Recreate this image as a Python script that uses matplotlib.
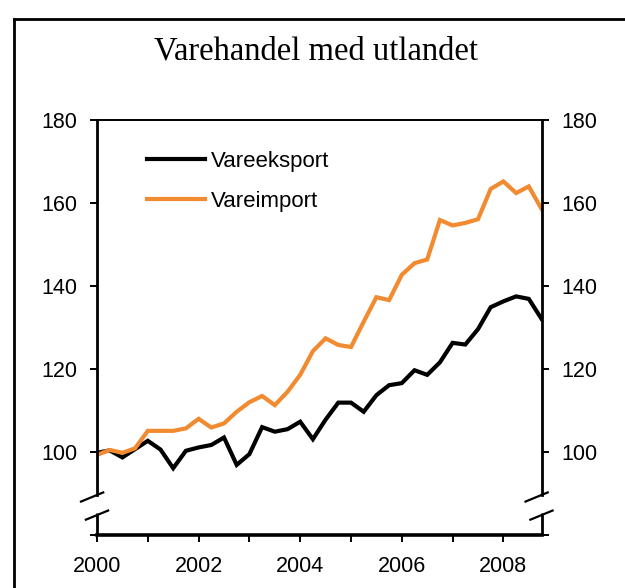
from __future__ import annotations

import matplotlib

matplotlib.use("Agg")
import matplotlib.pyplot as plt
from matplotlib.lines import Line2D

TITLE = "Varehandel med utlandet"
SERIES_NAMES = ["Vareeksport", "Vareimport"]
SERIES_COLORS = ["#000000", "#f28a30"]

# kvartalstall, 2000K1 - 2008K4
START_YEAR = 2000
QUARTERS = 36
EXPORT = [
    99.8, 100.4, 98.7, 100.7, 102.7, 100.6, 96.1, 100.3, 101.1, 101.7, 103.5, 96.9,
    99.5, 106.0, 104.9, 105.5, 107.3, 103.1, 107.8, 111.9, 111.9, 109.7, 113.7, 116.1,
    116.6, 119.7, 118.6, 121.6, 126.3, 125.9, 129.6, 134.9, 136.3, 137.5, 136.9, 132.1,
]
IMPORT = [
    99.3, 100.5, 99.8, 100.9, 105.1, 105.1, 105.1, 105.7, 108.0, 105.9, 106.9, 109.7,
    112.0, 113.5, 111.3, 114.5, 118.6, 124.3, 127.4, 125.8, 125.3, 131.4, 137.3, 136.6,
    142.7, 145.5, 146.4, 155.9, 154.6, 155.2, 156.1, 163.4, 165.2, 162.4, 164.0, 158.6,
]
X_TICKS = list(range(2000, 2009))
X_LABELS = [str(y) if y % 2 == 0 else "" for y in X_TICKS]
Y_TICKS = [80, 100, 120, 140, 160, 180]
Y_LABELS = ["", "100", "120", "140", "160", "180"]
Y_RANGE = (80, 180)
BREAK_RANGE = (85.3, 89.6)


def draw_break(ax, side: float) -> None:
    trans = ax.get_yaxis_transform()
    ax.add_line(Line2D([side, side], [Y_RANGE[0], BREAK_RANGE[0]], transform=trans,
                       color="black", lw=2, clip_on=False, solid_capstyle="butt"))
    for yc, shift in [(0.0916, -0.011), (0.048, 0.0)]:
        xs = [side + shift - 0.025, side + shift + 0.025]
        ys = [yc - 0.011, yc + 0.011]
        ax.add_line(Line2D(xs, ys, transform=ax.transAxes, color="black", lw=1.6, clip_on=False))


def main() -> None:
    plt.rcParams["font.family"] = ["Liberation Sans", "DejaVu Sans"]
    fig = plt.figure(figsize=(6.25, 5.88), dpi=100)
    ax = fig.add_axes([0.1552, 0.0901, 0.7112, 0.7058])

    xs = [START_YEAR + i / 4 for i in range(QUARTERS)]
    for values, name, color in zip([EXPORT, IMPORT], SERIES_NAMES, SERIES_COLORS):
        ax.plot(xs, values, color=color, lw=3, label=name, solid_joinstyle="miter")

    ax.set_xlim(xs[0], xs[-1])
    ax.set_ylim(*Y_RANGE)
    ax.set_xticks(X_TICKS, X_LABELS)
    ax.set_yticks(Y_TICKS, Y_LABELS)
    ax.tick_params(axis="both", direction="out", length=5, width=1.4, labelsize=15.5)
    ax.tick_params(axis="y", right=True, labelright=True, pad=9)
    ax.tick_params(axis="x", pad=10)

    ax.spines["top"].set_linewidth(1.4)
    ax.spines["bottom"].set_linewidth(2.6)
    for side in ["left", "right"]:
        ax.spines[side].set_linewidth(2)
        ax.spines[side].set_bounds(BREAK_RANGE[1], Y_RANGE[1])
    draw_break(ax, 0.0)
    draw_break(ax, 1.0)

    ax.legend(loc="upper left", bbox_to_anchor=(0.112, 0.926), frameon=False,
              fontsize=16, handlelength=2.6, handletextpad=0.3, labelspacing=0.85,
              borderpad=0, borderaxespad=0)

    fig.text(0.506, 0.913, TITLE, ha="center", va="center", fontsize=23.5,
             family="Liberation Serif")

    # ramme rundt figuren (bare venstre og topp er synlige)
    top = 1 - 19 / 588
    left = 14 / 625
    fig.add_artist(Line2D([left, left], [0, top], color="black", lw=2))
    fig.add_artist(Line2D([left, 1], [top, top], color="black", lw=2))

    fig.savefig("out.png", dpi=100)
    plt.close(fig)


if __name__ == "__main__":
    main()
